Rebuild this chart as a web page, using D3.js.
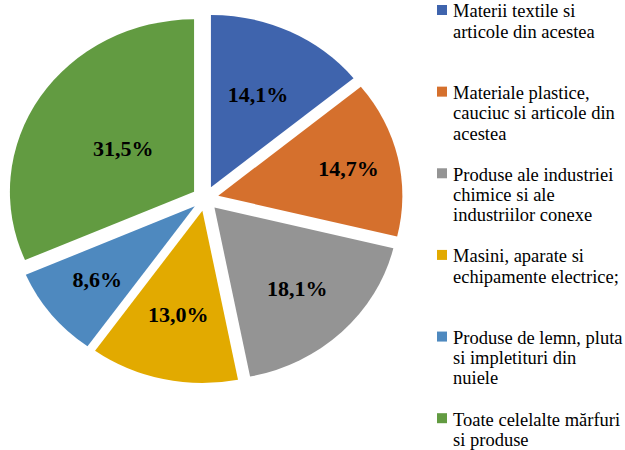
<!DOCTYPE html>
<html>
<head>
<meta charset="utf-8">
<script src="https://cdn.jsdelivr.net/npm/d3@7"></script>
</head>
<body style="margin:0">
<svg id="chart" width="625" height="450" style="display:block"></svg>
<script>
// ---- data ----
const categories = [
  ["Materii textile si", "articole din acestea"],
  ["Materiale plastice,", "cauciuc si articole din", "acestea"],
  ["Produse ale industriei", "chimice si ale", "industriilor conexe"],
  ["Masini, aparate si", "echipamente electrice;"],
  ["Produse de lemn, pluta", "si impletituri din", "nuiele"],
  ["Toate celelalte mărfuri", "si produse"]
];
const values = [14.1, 14.7, 18.1, 13.0, 8.6, 31.5];
const valueLabels = ["14,1%", "14,7%", "18,1%", "13,0%", "8,6%", "31,5%"];
const colors = ["#3F64AD", "#D5702D", "#949494", "#E2AA00", "#4E89BF", "#629B41"];

// ---- layout ----
const FONT = '"Liberation Serif", "Times New Roman", "Nimbus Roman", FreeSerif';
const cx = 205.2, cy = 198.5, sx = 1.0687;
const radius = 172.3, explode = 12.5;
const labelRadiusFrac = [0.595, 0.725, 0.65, 0.615, 0.68, 0.46];

const svg = d3.select("#chart");

// ---- legend ----
const legendY = d3.scaleLinear().domain([0, categories.length - 1]).range([17.3, 425.5]);
categories.forEach((lines, i) => {
  const by = legendY(i);
  svg.append("rect")
    .attr("x", 437).attr("y", by - 12.3)
    .attr("width", 10).attr("height", 10)
    .attr("fill", colors[i]);
  lines.forEach((ln, j) => {
    svg.append("text")
      .attr("x", 453).attr("y", by + j * 20.3)
      .style("font-family", FONT)
      .style("font-size", "18.5px")
      .text(ln);
  });
});

// ---- pie ----
const pie = d3.pie().sort(null).value(d => d)(values);
const arc = d3.arc().innerRadius(0).outerRadius(radius);

const pieG = svg.append("g").attr("transform", `translate(${cx},${cy}) scale(${sx},1)`);
pie.forEach((p, i) => {
  const mid = (p.startAngle + p.endAngle) / 2;
  const ox = explode * Math.sin(mid), oy = -explode * Math.cos(mid);
  pieG.append("path")
    .attr("d", arc(p))
    .attr("transform", `translate(${ox},${oy})`)
    .attr("fill", colors[i]);
});

pie.forEach((p, i) => {
  const mid = (p.startAngle + p.endAngle) / 2;
  const rr = explode + labelRadiusFrac[i] * radius;
  const x = cx + sx * rr * Math.sin(mid);
  const y = cy - rr * Math.cos(mid);
  svg.append("text")
    .attr("x", x).attr("y", y + 7.5)
    .attr("text-anchor", "middle")
    .style("font-family", FONT)
    .style("font-weight", "bold")
    .style("font-size", "22px")
    .style("fill", "#000")
    .text(valueLabels[i]);
});
</script>
</body>
</html>
